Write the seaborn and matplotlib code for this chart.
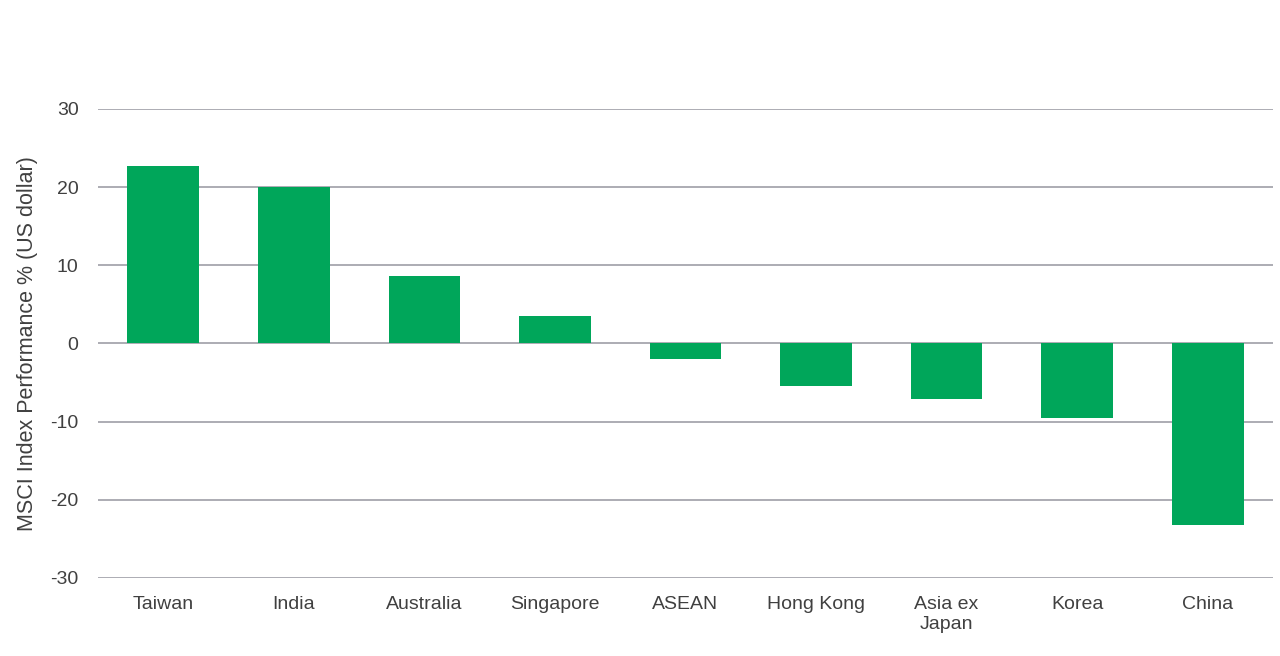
import matplotlib
matplotlib.use("Agg")
import matplotlib.pyplot as plt
import seaborn as sns
import pandas as pd

markets = ["Taiwan", "India", "Australia", "Singapore", "ASEAN",
           "Hong Kong", "Asia ex\nJapan", "Korea", "China"]
performance = [22.7, 20.0, 8.6, 3.5, -2.0, -5.5, -7.05, -9.6, -23.2]
y_ticks = [-30, -20, -10, 0, 10, 20, 30]

GREEN = "#00A65A"
GRID = "#A6A6AE"
TEXT = "#404040"

sns.set_theme(style="white")
plt.rcParams["font.family"] = ["Liberation Sans", "DejaVu Sans"]

df = pd.DataFrame({"market": markets, "perf": performance})

fig = plt.figure(figsize=(12.8, 6.56), dpi=100)
ax = fig.add_axes([0.0766, 0.119, 0.9179, 0.715])

ax.set_axisbelow(True)
ax.yaxis.grid(True, color=GRID, linewidth=1.3)
sns.barplot(data=df, x="market", y="perf", color=GREEN, saturation=1,
            width=0.55, linewidth=0, ax=ax)

ax.set_ylim(-30, 30)
ax.set_yticks(y_ticks)
ax.set_yticklabels([str(t) for t in y_ticks])
ax.set_xlim(-0.5, len(markets) - 0.5)
for s in ax.spines.values():
    s.set_visible(False)
ax.tick_params(axis="both", length=0, labelsize=14, labelcolor=TEXT)
ax.tick_params(axis="y", pad=14)
ax.tick_params(axis="x", pad=13)
for lbl in ax.get_xticklabels():
    lbl.set_linespacing(1.25)
ax.set_xlabel("")
ax.set_ylabel("MSCI Index Performance % (US dollar)", fontsize=15.5,
              color=TEXT)
ax.yaxis.set_label_coords(-0.051, 0.5)

fig.savefig("out.png", dpi=100)
